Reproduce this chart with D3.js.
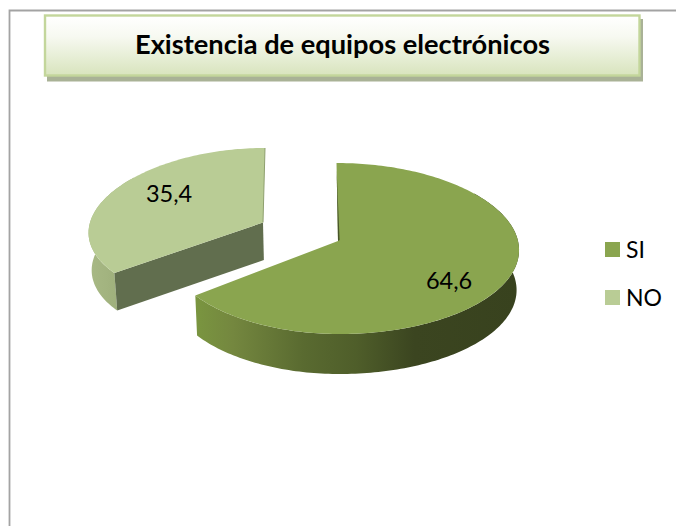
<!DOCTYPE html>
<html lang="es">
<head>
<meta charset="utf-8">
<title>Existencia de equipos electrónicos</title>
<script src="https://cdn.jsdelivr.net/npm/d3@7"></script>
<style>
  html, body { margin: 0; padding: 0; background: #fff; }
  svg { display: block; }
  text { font-family: Lato, "Open Sans", sans-serif; fill: #000; }
</style>
</head>
<body>
<svg id="chart" width="676" height="526"></svg>
<script>
// Chart content
const titleText = "Existencia de equipos electrónicos";
const categories = ["SI", "NO"];
const shares = [64.6, 35.4];
const topColors = ["#8aa54f", "#b9cc95"];

const svg = d3.select("#chart");
const defs = svg.append("defs");

// Outer frame: only the top and left rules are visible
svg.append("path")
  .attr("d", "M9.5,526V10.5H676")
  .attr("fill", "none")
  .attr("stroke", "#a3a3a3")
  .attr("stroke-width", 1.8);

// Title banner
const titleGrad = defs.append("linearGradient")
  .attr("id", "titleFill").attr("x1", 0).attr("y1", 0).attr("x2", 0).attr("y2", 1);
titleGrad.append("stop").attr("offset", "0%").attr("stop-color", "#ffffff");
titleGrad.append("stop").attr("offset", "35%").attr("stop-color", "#f7f9f1");
titleGrad.append("stop").attr("offset", "100%").attr("stop-color", "#d8e4bd");

svg.append("rect").attr("x", 47).attr("y", 19).attr("width", 596).attr("height", 62.5)
  .attr("fill", "#a9b296");
svg.append("rect").attr("x", 45).attr("y", 15.5).attr("width", 594.5).attr("height", 60)
  .attr("fill", "url(#titleFill)")
  .attr("stroke", "#c3d69b").attr("stroke-width", 2.4);
svg.append("text")
  .attr("x", 135).attr("y", 53.5)
  .attr("font-size", 26.2).attr("font-weight", 700)
  .attr("textLength", 415).attr("lengthAdjust", "spacingAndGlyphs")
  .text(titleText);

// Pie layout: first slice starts at twelve o'clock and runs clockwise
const arcs = d3.pie().sort(null).value(d => d)(shares);

// Projection of a tilted disc onto the page; each slice has its own apex because
// the second one is pulled away from the centre. Lower rims converge on a vanishing column.
const vanishX = 330;
const views = [
  { ax: 338, ay: 241, rL: 170.5, rR: 180, p: 0.1, back: 78, front: 93, skew: 1.5, depth: 40 },
  { ax: 263, ay: 222.5, rL: 173, rR: 173, p: 0.12, back: 74.5, front: 52 / 0.607, skew: -2, depth: 37.5 }
];

function projector(view) {
  const k = (view.back - view.front) / (view.back + view.front);
  const a = view.front * (1 + k);
  const yScale = v => view.ay + a * v / (1 + k * v);
  return (theta, radius = 1, drop = 0) => {
    const u = Math.sin(theta) * radius;
    const v = -Math.cos(theta) * radius;
    const r = u < 0 ? view.rL : view.rR;
    const x = view.ax + r * u * (1 + view.p * v) + view.skew * v;
    return [x + (vanishX - x) * 0.013 * (drop / view.depth), yScale(v) + drop];
  };
}

const outline = d3.line();
const sweep = (from, to, step = 0.02) => {
  const n = Math.ceil(Math.abs(to - from) / step);
  return d3.range(n + 1).map(i => from + (to - from) * i / n);
};

function topFace(arc, project) {
  const rim = sweep(arc.startAngle, arc.endAngle).map(t => project(t));
  return outline([project(0, 0), ...rim]) + "Z";
}
function rimWall(from, to, project, depth) {
  const angles = sweep(from, to);
  const upper = angles.map(t => project(t));
  const lower = angles.slice().reverse().map(t => project(t, 1, depth));
  return outline([...upper, ...lower]) + "Z";
}

function linearX(id, x1, x2, stops) {
  const g = defs.append("linearGradient").attr("id", id)
    .attr("gradientUnits", "userSpaceOnUse")
    .attr("x1", x1).attr("y1", 0).attr("x2", x2).attr("y2", 0);
  stops.forEach(([o, c]) => g.append("stop").attr("offset", o).attr("stop-color", c));
}
linearX("wallSi", 194, 518, [
  [0, "#7a9640"], [0.12, "#74873f"], [0.34, "#596a30"],
  [0.5, "#4f5e2a"], [0.68, "#3b4520"], [1, "#38421e"]
]);
linearX("wallNo", 88, 118, [[0, "#a8b985"], [1, "#9fb07c"]]);

// Detached NO slice: outer wall, cut wall, then the top
{
  const arc = arcs[1];
  const view = views[1];
  const project = projector(view);
  svg.append("path").attr("fill", "url(#wallNo)")
    .attr("d", rimWall(arc.startAngle, Math.PI * 1.7, project, view.depth));
  svg.append("path").attr("fill", "#616e4e")
    .attr("d", outline([
      project(arc.startAngle), project(0, 0),
      project(0, 0, view.depth), project(arc.startAngle, 1, view.depth)
    ]) + "Z");
  svg.append("path").attr("fill", topColors[1]).attr("d", topFace(arc, project));
  // Thin visible edge of the far cut
  svg.append("path").attr("fill", "none").attr("stroke", "#8fa06f").attr("stroke-width", 1)
    .attr("d", outline([project(0), project(0, 0)]));
}

// Main SI slice: rim wall, sliver of the inner wall, then the top
{
  const arc = arcs[0];
  const view = views[0];
  const project = projector(view);
  svg.append("path").attr("fill", "url(#wallSi)")
    .attr("d", rimWall(Math.PI * 0.3, arc.endAngle, project, view.depth));
  svg.append("path").attr("fill", topColors[0]).attr("d", topFace(arc, project));
  const apex = project(0, 0);
  svg.append("path").attr("fill", "#48552a")
    .attr("d", outline([project(0, 0.9), apex, [apex[0] + 1.6, apex[1] - 1]]) + "Z");
}

// Value labels
const labelFormat = v => String(v).replace(".", ",");
const labelSpots = [[449, 281], [169, 194]];
svg.selectAll("text.value").data(shares).join("text")
  .attr("class", "value")
  .attr("x", (d, i) => labelSpots[i][0])
  .attr("y", (d, i) => labelSpots[i][1])
  .attr("dy", "0.36em")
  .attr("text-anchor", "middle")
  .attr("font-size", 23.5)
  .text(labelFormat);

// Legend
const legendY = d3.scalePoint().domain(categories).range([249.5, 297.5]);
const legend = svg.selectAll("g.legend").data(categories).join("g")
  .attr("class", "legend")
  .attr("transform", d => `translate(605,${legendY(d)})`);
legend.append("rect")
  .attr("x", 0).attr("y", -7.5).attr("width", 15).attr("height", 15)
  .attr("fill", (d, i) => topColors[i]);
legend.append("text")
  .attr("x", 21).attr("dy", "0.36em")
  .attr("font-size", 23)
  .text(d => d);
</script>
</body>
</html>
